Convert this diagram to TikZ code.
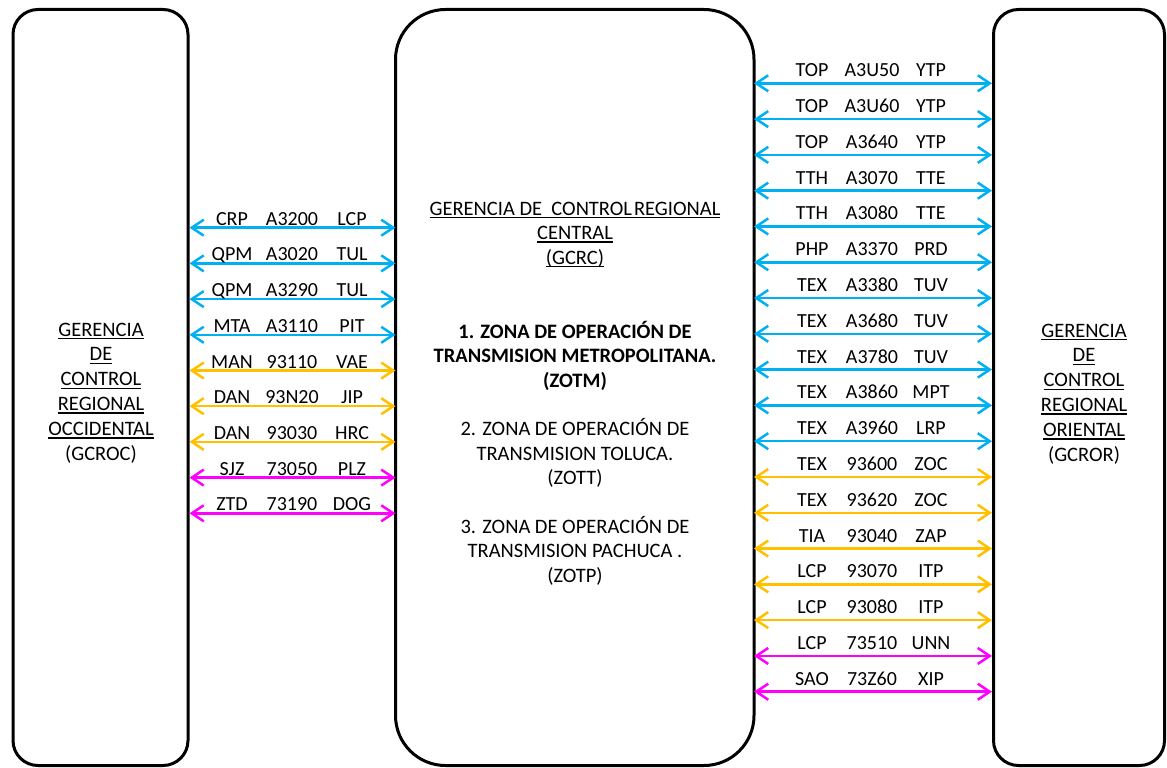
\documentclass[tikz,border=0pt]{standalone}
\usepackage{fontspec}
\setmainfont{Carlito}
\usetikzlibrary{arrows.meta}
\definecolor{linkblue}{HTML}{00B0F0}
\definecolor{linkorange}{HTML}{FFC000}
\definecolor{linkmag}{HTML}{FF00FF}
\newcommand\myul[1]{\setbox0\hbox{#1}\rlap{\rule[-3.3pt]{\wd0}{1.4pt}}\box0}
\begin{document}
\begin{tikzpicture}[x=1pt,y=-1pt,
  regionbox/.style={draw, line width=3pt, inner sep=0pt, outer sep=0pt},
  lbl/.style={font=\fontsize{20}{23}\selectfont, inner sep=0pt, anchor=base},
  boxtxt/.style={font=\fontsize{20.5}{23}\selectfont, inner sep=0pt, anchor=base},
  link/.style={line width=2.5pt, {Straight Barb[length=12pt,width=16pt]}-{Straight Barb[length=12pt,width=16pt]}}
]
\useasboundingbox (0,0) rectangle (1167,768);
\node[regionbox, rounded corners=25pt, minimum width=175pt, minimum height=756pt] (L) at (100.5,387.5) {};
\node[regionbox, rounded corners=50pt, minimum width=358.5pt, minimum height=756pt] (C) at (574.75,387.5) {};
\node[regionbox, rounded corners=25pt, minimum width=171pt, minimum height=756pt] (R) at (1079,387.5) {};

% left box text
\foreach \t [count=\i] in {GERENCIA,DE,CONTROL,REGIONAL,OCCIDENTAL}
  \node[boxtxt] (lt\i) at (101,{336+24.8*(\i-1)}) {\myul{\t}};
\node[boxtxt] (lt6) at (101,460) {(GCROC)};
% right box text
\foreach \t [count=\i] in {GERENCIA,DE,CONTROL,REGIONAL,ORIENTAL}
  \node[boxtxt] (rt\i) at (1084,{337+24.8*(\i-1)}) {\myul{\t}};
\node[boxtxt] (rt6) at (1084,461) {(GCROR)};

% centre text
\node[boxtxt] (ct1) at (575,215) {\myul{GERENCIA DE\ \ CONTROL\kern2pt REGIONAL}};
\node[boxtxt] (ct2) at (575,239.5) {\myul{CENTRAL}};
\node[boxtxt] (ct3) at (575,264) {\myul{(GCRC)}};
\node[boxtxt, font=\fontsize{20.5}{23}\selectfont\bfseries] (z11) at (575,338) {1. ZONA DE OPERACIÓN DE};
\node[boxtxt, font=\fontsize{20.5}{23}\selectfont\bfseries] (z12) at (575,362.5) {TRANSMISION METROPOLITANA.};
\node[boxtxt, font=\fontsize{20.5}{23}\selectfont\bfseries] (z13) at (575,387) {(ZOTM)};
\node[boxtxt] (z21) at (575,435.5) {2. ZONA DE OPERACIÓN DE};
\node[boxtxt] (z22) at (575,460) {TRANSMISION TOLUCA.};
\node[boxtxt] (z23) at (575,484.5) {(ZOTT)};
\node[boxtxt] (z31) at (575,533) {3. ZONA DE OPERACIÓN DE};
\node[boxtxt] (z32) at (575,557.5) {TRANSMISION PACHUCA .};
\node[boxtxt] (z33) at (575,582) {(ZOTP)};

% left links
\foreach \a/\b/\c/\col [count=\i] in {
  CRP/A3200/LCP/linkblue, QPM/A3020/TUL/linkblue, QPM/A3290/TUL/linkblue, MTA/A3110/PIT/linkblue,
  MAN/93110/VAE/linkorange, DAN/93N20/JIP/linkorange, DAN/93030/HRC/linkorange,
  SJZ/73050/PLZ/linkmag, ZTD/73190/DOG/linkmag} {
  \coordinate (ly\i) at (0,{227.7+35.7*(\i-1)});
  \draw[link, \col] ([xshift=1.5pt]L.east |- ly\i) -- (C.west |- ly\i);
  \node[lbl] (la\i) at (232,{227.7+35.7*(\i-1)-2.5}) {\a};
  \node[lbl] (lb\i) at (292,{227.7+35.7*(\i-1)-2.5}) {\b};
  \node[lbl] (lc\i) at (352,{227.7+35.7*(\i-1)-2.5}) {\c};
}

% right links
\foreach \a/\b/\c/\col [count=\i] in {
  TOP/A3U50/YTP/linkblue, TOP/A3U60/YTP/linkblue, TOP/A3640/YTP/linkblue,
  TTH/A3070/TTE/linkblue, TTH/A3080/TTE/linkblue, PHP/A3370/PRD/linkblue,
  TEX/A3380/TUV/linkblue, TEX/A3680/TUV/linkblue, TEX/A3780/TUV/linkblue,
  TEX/A3860/MPT/linkblue, TEX/A3960/LRP/linkblue,
  TEX/93600/ZOC/linkorange, TEX/93620/ZOC/linkorange, TIA/93040/ZAP/linkorange,
  LCP/93070/ITP/linkorange, LCP/93080/ITP/linkorange,
  LCP/73510/UNN/linkmag, SAO/73Z60/XIP/linkmag} {
  \coordinate (ry\i) at (0,{83.3+35.79*(\i-1)});
  \draw[link, \col] (C.east |- ry\i) -- ([xshift=-1.5pt]R.west |- ry\i);
  \node[lbl] (ra\i) at (812,{83.3+35.79*(\i-1)-6.5}) {\a};
  \node[lbl] (rb\i) at (872,{83.3+35.79*(\i-1)-6.5}) {\b};
  \node[lbl] (rc\i) at (931,{83.3+35.79*(\i-1)-6.5}) {\c};
}
\end{tikzpicture}
\end{document}
